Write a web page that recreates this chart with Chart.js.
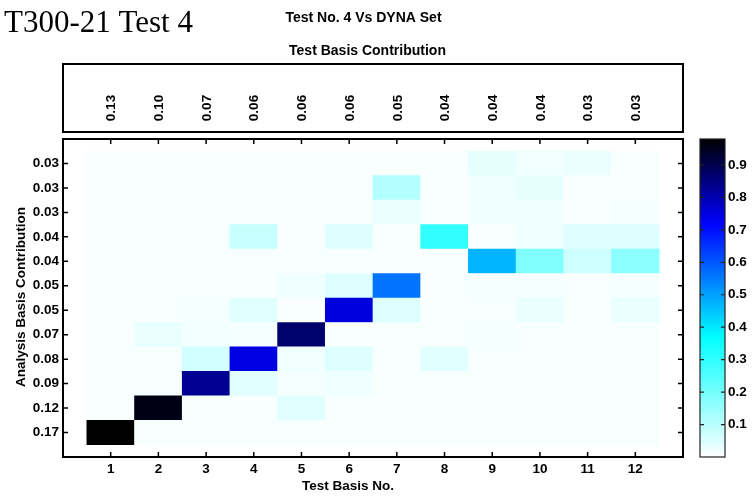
<!DOCTYPE html>
<html>
<head>
<meta charset="utf-8">
<script src="https://cdn.jsdelivr.net/npm/chart.js@4"></script>
<style>
body { margin:0; background:#fff; width:755px; height:497px; position:relative; overflow:hidden; }
canvas { position:absolute; top:0; }
#mac { left:0; }
#cbar { left:690px; }
</style>
</head>
<body>
<canvas id="mac" width="755" height="497"></canvas>
<canvas id="cbar" width="65" height="497"></canvas>
<script>
var testNo = [1,2,3,4,5,6,7,8,9,10,11,12];
var testContrib = ['0.13','0.10','0.07','0.06','0.06','0.06','0.05','0.04','0.04','0.04','0.03','0.03'];
// analysis basis contribution, bottom row first
var analysisContrib = ['0.17','0.12','0.09','0.08','0.07','0.05','0.05','0.04','0.04','0.03','0.03','0.03'];

// MAC values per analysis row (bottom to top), one value per test basis 1..12
var r1  = [0.98,0.01,0.01,0.01,0.01,0.01,0.01,0.01,0.01,0.01,0.01,0.01];
var r2  = [0.01,0.96,0.01,0.01,0.044,0.01,0.01,0.01,0.01,0.01,0.01,0.01];
var r3  = [0.01,0.01,0.83,0.044,0.015,0.022,0.01,0.01,0.01,0.01,0.01,0.01];
var r4  = [0.01,0.01,0.065,0.75,0.02,0.05,0.008,0.044,0.01,0.01,0.01,0.01];
var r5  = [0.01,0.03,0.02,0.015,0.87,0.008,0.01,0.01,0.015,0.01,0.01,0.01];
var r6  = [0.01,0.01,0.015,0.044,0.008,0.756,0.05,0.008,0.01,0.03,0.01,0.03];
var r7  = [0.01,0.01,0.01,0.01,0.022,0.05,0.562,0.01,0.015,0.015,0.012,0.015];
var r8  = [0.01,0.01,0.01,0.01,0.01,0.01,0.008,0.008,0.473,0.185,0.073,0.167];
var r9  = [0.01,0.01,0.01,0.08,0.01,0.05,0.008,0.297,0.008,0.022,0.05,0.05];
var r10 = [0.01,0.01,0.01,0.01,0.01,0.01,0.03,0.008,0.022,0.022,0.008,0.015];
var r11 = [0.01,0.01,0.01,0.01,0.01,0.01,0.11,0.008,0.022,0.036,0.008,0.008];
var r12 = [0.01,0.01,0.01,0.01,0.01,0.01,0.01,0.008,0.036,0.02,0.028,0.008];
var rows = [r1,r2,r3,r4,r5,r6,r7,r8,r9,r10,r11,r12];

var cbMax = 0.98;
var cbTicks = [0.1,0.2,0.3,0.4,0.5,0.6,0.7,0.8,0.9];

var FONT = '"Liberation Sans", Arial, sans-serif';

// white -> cyan -> blue -> black
function cmapRGB(v) {
  var st = [[0,[255,255,255]],[0.37,[0,255,255]],[0.72,[0,0,255]],[0.98,[0,0,0]]];
  if (v <= 0) return st[0][1];
  for (var i = 1; i < st.length; i++) {
    if (v <= st[i][0]) {
      var t = (v - st[i-1][0]) / (st[i][0] - st[i-1][0]);
      var a = st[i-1][1], b = st[i][1];
      return [0,1,2].map(function(k){ return Math.round(a[k] + (b[k]-a[k])*t); });
    }
  }
  return st[st.length-1][1];
}
function cmap(v) { var c = cmapRGB(v); return 'rgb(' + c.join(',') + ')'; }

var datasets = rows.map(function(row, r) {
  return {
    data: row.map(function(v, c) { return { x: testNo[c], y: [r + 0.5, r + 1.5] }; }),
    backgroundColor: row.map(cmap),
    borderWidth: 0,
    grouped: false,
    barPercentage: 1,
    categoryPercentage: 1
  };
});

var macDeco = {
  id: 'macDeco',
  afterDraw: function(chart) {
    var ctx = chart.ctx, a = chart.chartArea, xs = chart.scales.x, ys = chart.scales.y;
    ctx.save();
    ctx.strokeStyle = '#000';
    ctx.lineWidth = 2;
    ctx.strokeRect(a.left, a.top, a.right - a.left, a.bottom - a.top);
    // top box with test basis contributions
    ctx.strokeRect(a.left, 64, a.right - a.left, 68);
    ctx.lineWidth = 1.5;
    testNo.forEach(function(v) {
      var px = xs.getPixelForValue(v);
      ctx.beginPath();
      ctx.moveTo(px, a.bottom); ctx.lineTo(px, a.bottom - 5);
      ctx.moveTo(px, a.top); ctx.lineTo(px, a.top + 5);
      ctx.stroke();
      var py = ys.getPixelForValue(v);
      ctx.beginPath();
      ctx.moveTo(a.left, py); ctx.lineTo(a.left + 5, py);
      ctx.moveTo(a.right, py); ctx.lineTo(a.right - 5, py);
      ctx.stroke();
    });
    ctx.fillStyle = '#000';
    ctx.font = 'bold 13.5px ' + FONT;
    ctx.textAlign = 'center';
    ctx.textBaseline = 'middle';
    testNo.forEach(function(v, i) {
      ctx.save();
      ctx.translate(xs.getPixelForValue(v) + 1, 108);
      ctx.rotate(-Math.PI / 2);
      ctx.fillText(testContrib[i], 0, 0);
      ctx.restore();
    });
    ctx.textBaseline = 'alphabetic';
    ctx.font = 'bold 14px ' + FONT;
    ctx.fillText('Test No. 4 Vs DYNA Set', 363.5, 21.5);
    ctx.fillText('Test Basis Contribution', 367.5, 55);
    ctx.font = 'bold 13.5px ' + FONT;
    ctx.fillText('Test Basis No.', 348, 490);
    ctx.save();
    ctx.translate(25, 297);
    ctx.rotate(-Math.PI / 2);
    ctx.fillText('Analysis Basis Contribution', 0, 0);
    ctx.restore();
    ctx.textAlign = 'left';
    ctx.font = '31px "Liberation Serif", "Times New Roman", serif';
    ctx.fillText('T300-21 Test 4', 4, 32);
    ctx.restore();
  }
};

new Chart(document.getElementById('mac').getContext('2d'), {
  type: 'bar',
  data: { datasets: datasets },
  options: {
    responsive: false,
    animation: false,
    devicePixelRatio: 1,
    layout: { padding: { left: 13, right: 72, top: 139, bottom: 0 } },
    plugins: { legend: { display: false }, tooltip: { enabled: false } },
    scales: {
      x: {
        type: 'linear', min: 0, max: 13, offset: false,
        afterBuildTicks: function(s) { s.ticks = testNo.map(function(v){ return { value: v }; }); },
        afterFit: function(s) { s.height = 40; },
        grid: { offset: false, drawOnChartArea: false, drawTicks: false },
        border: { display: false },
        ticks: { color: '#000', padding: 4, maxRotation: 0, font: { family: FONT, size: 13.5, weight: 'bold' } }
      },
      y: {
        type: 'linear', min: 0, max: 13,
        afterBuildTicks: function(s) { s.ticks = testNo.map(function(v){ return { value: v }; }); },
        afterFit: function(s) { s.width = 50; },
        grid: { drawOnChartArea: false, drawTicks: false },
        border: { display: false },
        ticks: {
          color: '#000', padding: 4,
          font: { family: FONT, size: 13.5, weight: 'bold' },
          callback: function(v) { return analysisContrib[v - 1]; }
        }
      }
    }
  },
  plugins: [macDeco]
});

var cbDeco = {
  id: 'cbDeco',
  afterDraw: function(chart) {
    var ctx = chart.ctx, a = chart.chartArea, ys = chart.scales.y;
    ctx.save();
    ctx.strokeStyle = '#222';
    ctx.lineWidth = 1.2;
    ctx.strokeRect(a.left, a.top, a.right - a.left, a.bottom - a.top);
    cbTicks.forEach(function(v) {
      var py = ys.getPixelForValue(v);
      ctx.beginPath();
      ctx.moveTo(a.left, py); ctx.lineTo(a.left + 4, py);
      ctx.moveTo(a.right, py); ctx.lineTo(a.right - 4, py);
      ctx.stroke();
    });
    ctx.restore();
  }
};

new Chart(document.getElementById('cbar').getContext('2d'), {
  type: 'bar',
  data: {
    labels: ['MAC'],
    datasets: [{
      data: [cbMax],
      borderWidth: 0,
      barPercentage: 1,
      categoryPercentage: 1,
      backgroundColor: function(c) {
        var a = c.chart.chartArea;
        if (!a) return '#fff';
        var g = c.chart.ctx.createLinearGradient(0, a.bottom, 0, a.top);
        for (var i = 0; i <= 40; i++) {
          g.addColorStop(i / 40, cmap(cbMax * i / 40));
        }
        return g;
      }
    }]
  },
  options: {
    responsive: false,
    animation: false,
    devicePixelRatio: 1,
    layout: { padding: { left: 10, right: 0, top: 139, bottom: 40 } },
    plugins: { legend: { display: false }, tooltip: { enabled: false } },
    scales: {
      x: { display: false },
      y: {
        position: 'right', min: 0, max: cbMax,
        afterBuildTicks: function(s) { s.ticks = cbTicks.map(function(v){ return { value: v }; }); },
        afterFit: function(s) { s.width = 30; },
        grid: { drawOnChartArea: false, drawTicks: false },
        border: { display: false },
        ticks: {
          color: '#000', padding: 3,
          font: { family: FONT, size: 13.5, weight: 'bold' },
          callback: function(v) { return v.toFixed(1); }
        }
      }
    }
  },
  plugins: [cbDeco]
});
</script>
</body>
</html>
